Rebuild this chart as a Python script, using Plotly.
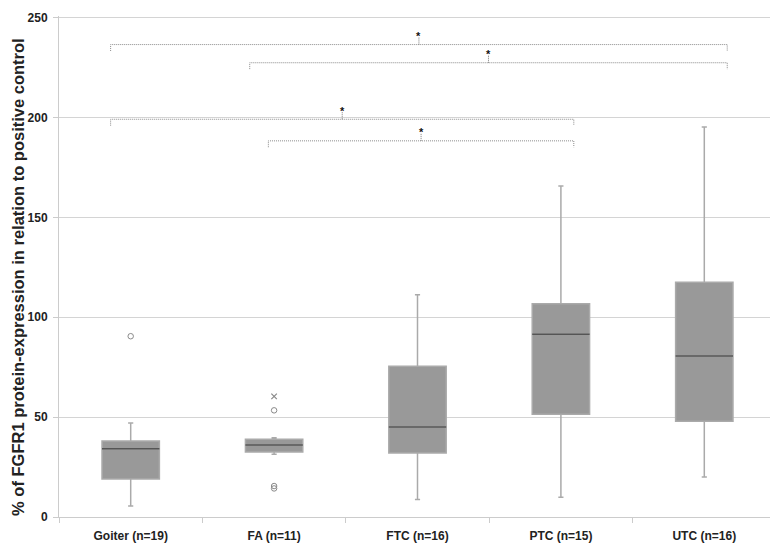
import plotly.graph_objects as go

# Group labels and box statistics
groups = ["Goiter (n=19)", "FA (n=11)", "FTC (n=16)", "PTC (n=15)", "UTC (n=16)"]
lower = [5.5, 31.4, 8.8, 9.9, 20.0]
q1 = [19.0, 32.5, 32.1, 51.4, 47.9]
median = [34.2, 36.1, 45.1, 91.5, 80.6]
q3 = [38.0, 38.9, 75.5, 106.8, 117.5]
upper = [47.0, 39.7, 111.3, 165.7, 195.2]

# Outliers (circles) and extreme value (cross)
outlier_x = [0, 1, 1, 1]
outlier_y = [90.5, 53.4, 15.5, 14.3]
extreme_x = [1]
extreme_y = [60.4]

# Significance brackets
br_left = [-0.14, 0.83, -0.14, 0.96]
br_right = [4.16, 4.16, 3.09, 3.09]
br_y = [236.5, 227.4, 199.1, 188.3]
br_label = ["*", "*", "*", "*"]

y_ticks = [0, 50, 100, 150, 200, 250]

xpos = list(range(len(groups)))

fig = go.Figure()

# boxes with light border / whiskers
fig.add_trace(go.Box(
    x=xpos, q1=q1, median=median, q3=q3,
    lowerfence=lower, upperfence=upper,
    width=0.4, whiskerwidth=0.09,
    fillcolor="#999999",
    line=dict(color="#aaaaaa", width=1.5),
    boxpoints=False, hoverinfo="skip", showlegend=False,
))

# darker median line drawn as a flat box on top
fig.add_trace(go.Box(
    x=xpos, q1=median, median=median, q3=median,
    lowerfence=median, upperfence=median,
    width=0.4, whiskerwidth=0,
    fillcolor="rgba(0,0,0,0)",
    line=dict(color="#555555", width=1.5),
    boxpoints=False, hoverinfo="skip", showlegend=False,
))

fig.add_trace(go.Scatter(
    x=outlier_x, y=outlier_y, mode="markers",
    marker=dict(symbol="circle-open", size=5.5, color="#8a8a8a", line=dict(width=1)),
    showlegend=False, hoverinfo="skip",
))
fig.add_trace(go.Scatter(
    x=extreme_x, y=extreme_y, mode="markers",
    marker=dict(symbol="x-thin-open", size=5.5, color="#8a8a8a", line=dict(width=1.2)),
    showlegend=False, hoverinfo="skip",
))

# brackets
for xl, xr, yb, lab in zip(br_left, br_right, br_y, br_label):
    xm = (xl + xr) / 2
    fig.add_shape(
        type="path", xref="x", yref="y",
        path=f"M {xl},{yb-3.2} L {xl},{yb} L {xr},{yb} L {xr},{yb-3.2}",
        line=dict(color="#8a8a8a", width=1, dash="1px,1px"),
    )
    fig.add_shape(
        type="line", xref="x", yref="y",
        x0=xm, x1=xm, y0=yb, y1=yb + 3.6,
        line=dict(color="#777777", width=1, dash="1px,1px"),
    )
    fig.add_annotation(
        x=xm, y=yb + 5.7, text=f"<b>{lab}</b>", showarrow=False,
        yanchor="middle", yshift=-3,
        font=dict(family="Arial", size=11, color="#111111"),
    )

# y-axis title, placed by hand in the left margin
fig.add_annotation(
    xref="paper", yref="paper", x=-0.058, y=0.48,
    text="<b>% of FGFR1 protein-expression in relation to positive control</b>",
    textangle=-90, showarrow=False, xanchor="center", yanchor="middle",
    font=dict(family="Arial", size=16.5, color="#222222"),
)

fig.update_layout(
    width=778, height=543,
    margin=dict(l=51, r=10, t=3, b=34),
    plot_bgcolor="white", paper_bgcolor="white",
    boxmode="overlay",
    font=dict(family="Arial", color="#222222"),
    xaxis=dict(
        range=[-0.5, 4.5],
        tickvals=xpos, ticktext=[f"<b>{g}</b>" for g in groups],
        ticks="", showgrid=False, zeroline=False,
        showline=True, linecolor="#cccccc", linewidth=1,
        tickfont=dict(size=12, color="#222222"),
        ticklabelstandoff=8,
        minor=dict(tickvals=[-0.5, 0.5, 1.5, 2.5, 3.5, 4.5], ticks="outside",
                   ticklen=5, tickcolor="#cccccc", showgrid=False),
    ),
    yaxis=dict(
        range=[0, 250.8],
        tickvals=y_ticks,
        ticktext=[f"<b>{v}</b>" for v in y_ticks],
        showgrid=True, gridcolor="#d4d4d4", gridwidth=1,
        zeroline=False, showline=True, linecolor="#cccccc", linewidth=1,
        ticks="outside", ticklen=5, tickcolor="#cccccc",
        tickfont=dict(size=12, color="#222222"),
        ticklabelstandoff=3, ticklabeloverflow="allow",
    ),
)

fig.write_html("out.html")
